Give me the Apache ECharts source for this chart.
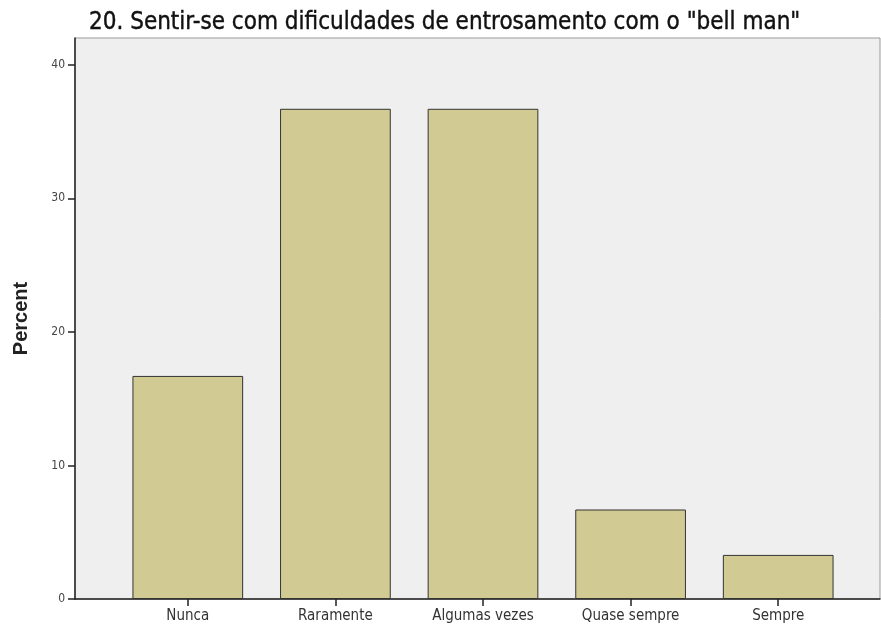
<!DOCTYPE html>
<html><head><meta charset="utf-8">
<script src="https://cdn.jsdelivr.net/npm/echarts@6/dist/echarts.min.js"></script>
<style>html,body{margin:0;padding:0;background:#fff}#c{width:881px;height:630px}</style>
</head><body><div id="c"></div>
<script>
const categories = ["Nunca", "Raramente", "Algumas vezes", "Quase sempre", "Sempre"];
const percentValues = [16.7, 36.7, 36.7, 6.7, 3.3];
const yTicks = [0, 10, 20, 30, 40];
const yMax = 42;
const titleText = '20. Sentir-se com dificuldades de entrosamento com o "bell man"';

const chart = echarts.init(document.getElementById('c'), null, {renderer: 'canvas'});
chart.setOption({
  animation: false,
  backgroundColor: '#ffffff',
  title: {
    text: titleText, left: 84, top: 6,
    textStyle: {fontFamily: 'DejaVu Sans Condensed, DejaVu Sans, Liberation Sans', fontSize: 24, fontWeight: 'normal', color: '#111', textBorderColor: '#111', textBorderWidth: 0.4}
  },
  grid: [
    {left: 75, right: 1, top: 38, bottom: 31, show: true, backgroundColor: '#efefef', borderColor: '#9a9a9a', borderWidth: 1},
    {left: 114, right: 29, top: 38, bottom: 31}
  ],
  xAxis: [
    {gridIndex: 0, type: 'category', data: categories, axisLine: {show: true, lineStyle: {color: '#222', width: 1.5}}, axisTick: {show: false}, axisLabel: {show: false}, splitLine: {show: false}},
    {gridIndex: 1, type: 'category', data: categories, axisLine: {show: false}, axisTick: {show: true, alignWithLabel: true, length: 7, lineStyle: {color: '#222', width: 1.5}},
      axisLabel: {color: '#333', fontSize: 15, fontFamily: 'DejaVu Sans Condensed, Liberation Sans', margin: 10}}
  ],
  yAxis: [
    {gridIndex: 0, type: 'value', min: 0, max: yMax, interval: 10,
      name: 'Percent', nameLocation: 'middle', nameGap: 44, nameRotate: 90,
      nameTextStyle: {fontWeight: 'bold', fontSize: 20, color: '#222', fontFamily: 'Liberation Sans, Arial'},
      axisLine: {show: true, lineStyle: {color: '#222', width: 1.5}},
      axisTick: {show: true, length: 7, customValues: yTicks, lineStyle: {color: '#222', width: 1.5}},
      axisLabel: {customValues: yTicks, color: '#444', fontSize: 12, margin: 10, fontFamily: 'DejaVu Sans Condensed, Liberation Sans'},
      splitLine: {show: false}},
    {gridIndex: 1, type: 'value', min: 0, max: yMax, show: false, splitLine: {show: false}}
  ],
  series: [{
    type: 'bar', xAxisIndex: 1, yAxisIndex: 1, data: percentValues,
    barCategoryGap: '25%',
    itemStyle: {color: '#d1cb93', borderColor: '#333', borderWidth: 1}
  }]
});
</script></body></html>
